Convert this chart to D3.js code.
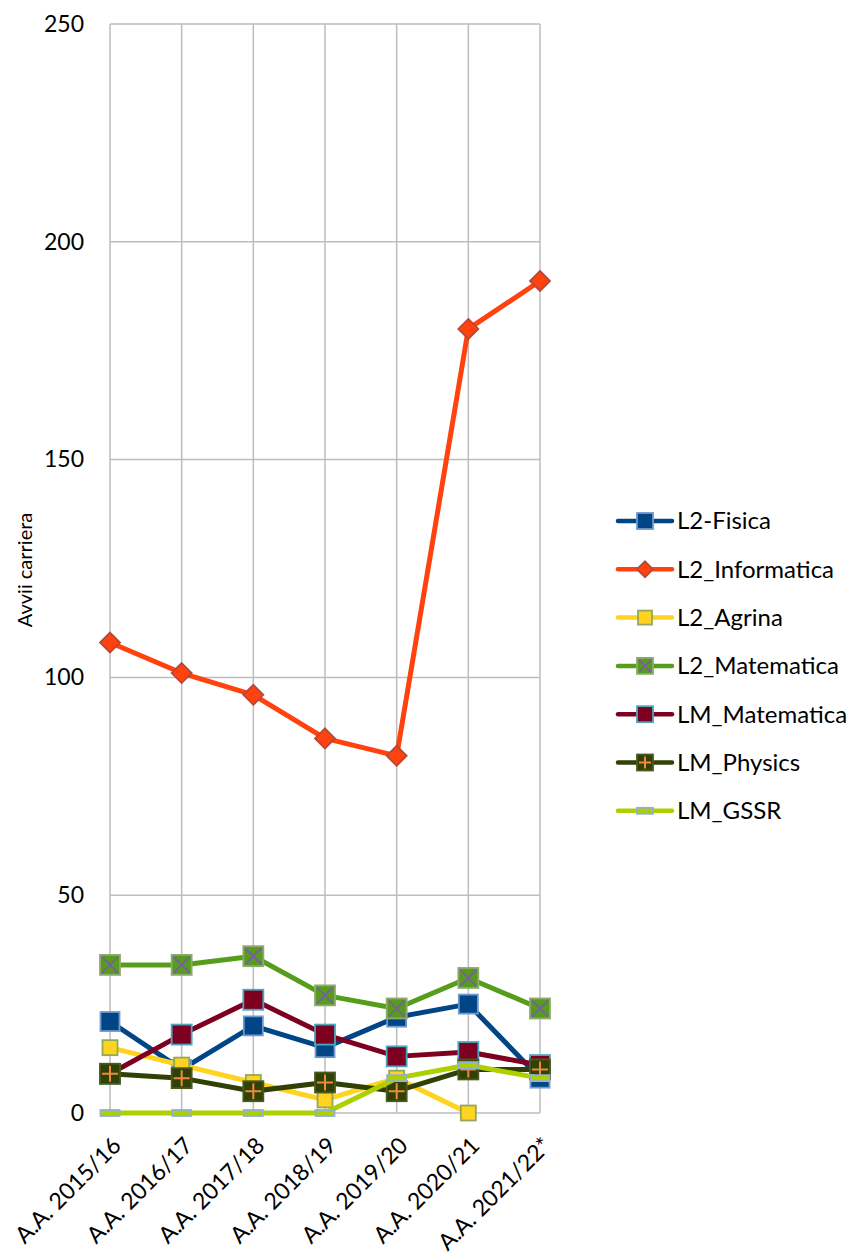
<!DOCTYPE html>
<html>
<head>
<meta charset="utf-8">
<script src="https://cdn.jsdelivr.net/npm/d3@7"></script>
<style>
  html, body { margin: 0; padding: 0; background: #fff; }
  svg { display: block; font-family: Lato, "Open Sans", sans-serif; }
</style>
</head>
<body>
<svg id="chart" width="856" height="1256"></svg>
<script>
// Academic years on the category axis
const years = ["A.A. 2015/16", "A.A. 2016/17", "A.A. 2017/18", "A.A. 2018/19", "A.A. 2019/20", "A.A. 2020/21", "A.A. 2021/22*"];

// Career starts per degree programme (null = no value)
const l2Fisica       = [21, 10, 20, 15, 22, 25, 8];
const l2Informatica  = [108, 101, 96, 86, 82, 180, 191];
const l2Agrina       = [15, 11, 7, 3, 8, 0, null];
const l2Matematica   = [34, 34, 36, 27, 24, 31, 24];
const lmMatematica   = [9, 18, 26, 18, 13, 14, 11];
const lmPhysics      = [9, 8, 5, 7, 5, 10, 10];
const lmGSSR         = [0, 0, 0, 0, 8, 11, 8];

const yTicks = [0, 50, 100, 150, 200, 250];

const series = [
  { name: "L2-Fisica",      values: l2Fisica,      line: "#004586", marker: "square",  fill: "#004586", stroke: "#6f98cc", size: 19 },
  { name: "L2_Informatica", values: l2Informatica, line: "#ff420e", marker: "diamond", fill: "#ff420e", stroke: "#b5483a", size: 20 },
  { name: "L2_Agrina",      values: l2Agrina,      line: "#ffd320", marker: "square",  fill: "#ffd320", stroke: "#93a95a", size: 15 },
  { name: "L2_Matematica",  values: l2Matematica,  line: "#579d1c", marker: "x",       fill: "#579d1c", stroke: "#8faa70", glyph: "#7a5fa0", size: 20 },
  { name: "LM_Matematica",  values: lmMatematica,  line: "#7e0021", marker: "square",  fill: "#7e0021", stroke: "#4ba6bf", size: 20 },
  { name: "LM_Physics",     values: lmPhysics,     line: "#314004", marker: "plus",    fill: "#314004", stroke: "#4a5a1c", glyph: "#f08a3c", size: 20 },
  { name: "LM_GSSR",        values: lmGSSR,        line: "#aecf00", marker: "dash",    fill: "#aecf00", stroke: "#8fb0da", size: 19 }
];

const svg = d3.select("#chart");
const plot = { left: 110, right: 540, top: 24, bottom: 1113 };

const x = d3.scalePoint().domain(years).range([plot.left, plot.right]);
const y = d3.scaleLinear().domain([0, 250]).range([plot.bottom, plot.top]);

// Gridlines
const grid = svg.append("g").attr("stroke", "#bdbdbd").attr("stroke-width", 1.5);
grid.selectAll("line.h").data(yTicks).join("line")
  .attr("x1", plot.left).attr("x2", plot.right)
  .attr("y1", d => y(d)).attr("y2", d => y(d));
grid.selectAll("line.v").data(years).join("line")
  .attr("x1", d => x(d)).attr("x2", d => x(d))
  .attr("y1", plot.top).attr("y2", plot.bottom);

// Y axis tick labels
const yAxis = d3.axisLeft(y).tickValues(yTicks).tickSize(0).tickPadding(26);
const gy = svg.append("g").attr("transform", `translate(${plot.left},0)`).call(yAxis);
gy.select(".domain").remove();
gy.selectAll("text").attr("font-size", 23).attr("font-family", "Lato, sans-serif").attr("fill", "#000");

// X axis labels, rotated
const xAxis = d3.axisBottom(x).tickSize(0).tickPadding(0);
const gx = svg.append("g").attr("transform", `translate(0,${plot.bottom})`).call(xAxis);
gx.select(".domain").remove();
gx.selectAll("text")
  .attr("font-size", 23).attr("font-family", "Lato, sans-serif").attr("fill", "#000")
  .attr("text-anchor", "end")
  .attr("dy", null)
  .attr("transform", "translate(12,34) rotate(-45)");

// Y axis title
svg.append("text")
  .attr("transform", `translate(32,570) rotate(-90)`)
  .attr("text-anchor", "middle")
  .attr("font-size", 20)
  .text("Avvii carriera");

function drawMarker(g, s) {
  const h = s.size / 2;
  if (s.marker === "square" || s.marker === "x" || s.marker === "plus") {
    g.append("rect").attr("x", -h).attr("y", -h).attr("width", s.size).attr("height", s.size)
      .attr("fill", s.fill).attr("stroke", s.stroke).attr("stroke-width", 1.8);
    if (s.marker === "x") {
      g.append("path").attr("d", `M${-h + 2},${-h + 2}L${h - 2},${h - 2}M${h - 2},${-h + 2}L${-h + 2},${h - 2}`)
        .attr("stroke", s.glyph).attr("stroke-width", 2).attr("fill", "none");
    }
    if (s.marker === "plus") {
      g.append("path").attr("d", `M0,${-h + 2}V${h - 2}M${-h + 2},0H${h - 2}`)
        .attr("stroke", s.glyph).attr("stroke-width", 2).attr("fill", "none");
    }
  } else if (s.marker === "diamond") {
    g.append("path").attr("d", `M0,${-h}L${h},0L0,${h}L${-h},0Z`)
      .attr("fill", s.fill).attr("stroke", s.stroke).attr("stroke-width", 1.8);
  } else if (s.marker === "dash") {
    g.append("rect").attr("x", -h).attr("y", -3).attr("width", s.size).attr("height", 6)
      .attr("fill", s.fill).attr("stroke", s.stroke).attr("stroke-width", 1.8);
  }
}

const line = d3.line()
  .defined(d => d.v !== null)
  .x(d => x(d.year))
  .y(d => y(d.v));

// Series: line first, then its markers, in legend order
series.forEach(s => {
  const pts = years.map((yr, i) => ({ year: yr, v: s.values[i] }));
  const g = svg.append("g");
  g.append("path").datum(pts)
    .attr("d", line)
    .attr("fill", "none")
    .attr("stroke", s.line)
    .attr("stroke-width", 5)
    .attr("stroke-linejoin", "round");
  g.selectAll("g.m").data(pts.filter(d => d.v !== null)).join("g")
    .attr("transform", d => `translate(${x(d.year)},${y(d.v)})`)
    .each(function () { drawMarker(d3.select(this), s); });
});

// Legend
const legend = svg.append("g").attr("transform", "translate(618,521)");
series.forEach((s, i) => {
  const item = legend.append("g").attr("transform", `translate(0,${i * 48.3})`);
  item.append("line").attr("x1", 0).attr("x2", 54).attr("y1", 0).attr("y2", 0)
    .attr("stroke", s.line).attr("stroke-width", 4.5).attr("stroke-linecap", "round");
  const m = item.append("g").attr("transform", "translate(27,0)");
  drawMarker(m, Object.assign({}, s, { size: s.marker === "square" && s.size < 18 ? 14 : 16 }));
  item.append("text").attr("x", 59).attr("y", 0).attr("dy", "0.35em")
    .attr("font-size", 24).text(s.name);
});
</script>
</body>
</html>
